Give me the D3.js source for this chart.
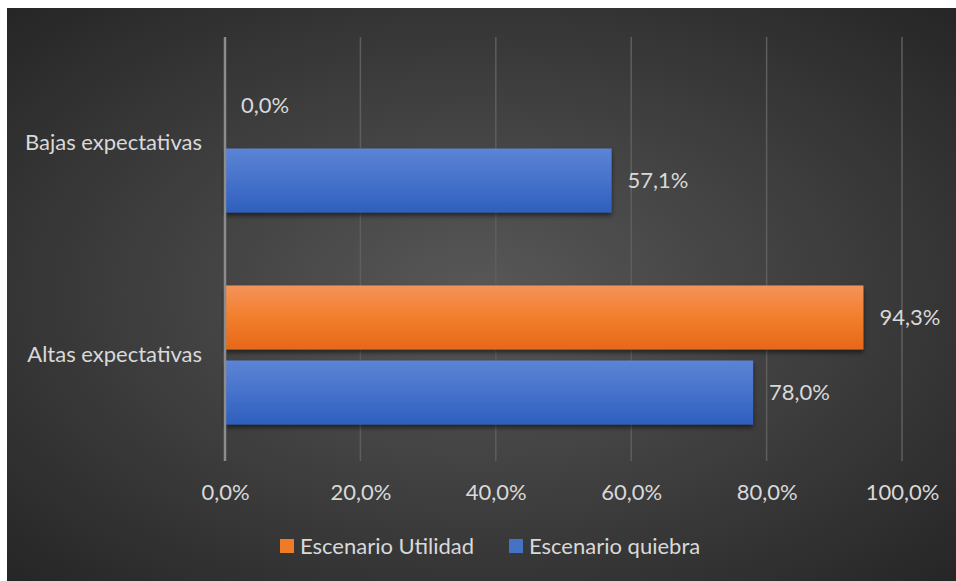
<!DOCTYPE html>
<html>
<head>
<meta charset="utf-8">
<script src="https://cdn.jsdelivr.net/npm/d3@7"></script>
<style>
  html, body { margin: 0; padding: 0; background: #fff; }
  svg text { font-family: Lato, "Open Sans", sans-serif; }
</style>
</head>
<body>
<svg id="chart"></svg>
<script>
// chart data
const categories = ["Bajas expectativas", "Altas expectativas"];
const seriesNames = ["Escenario Utilidad", "Escenario quiebra"];
const utilidad = [0.0, 94.3];
const quiebra = [57.1, 78.0];
const xTicks = [0, 20, 40, 60, 80, 100];

const W = 956, H = 581;
var margin = {top: 37, right: 54, bottom: 120, left: 225},
    width = W - margin.left - margin.right,
    height = H - margin.top - margin.bottom;

var svg = d3.select("#chart")
    .attr("width", W)
    .attr("height", H);

var defs = svg.append("defs");

// background gradient
var bg = defs.append("radialGradient").attr("id", "bg")
    .attr("cx", "50%").attr("cy", "50%").attr("r", "70%");
bg.append("stop").attr("offset", "0%").attr("stop-color", "#585858");
bg.append("stop").attr("offset", "100%").attr("stop-color", "#262626");

// bar gradients
function barGrad(id, top, mid, bottom) {
  var g = defs.append("linearGradient").attr("id", id)
      .attr("x1", 0).attr("y1", 0).attr("x2", 0).attr("y2", 1);
  g.append("stop").attr("offset", "0%").attr("stop-color", top);
  g.append("stop").attr("offset", "50%").attr("stop-color", mid);
  g.append("stop").attr("offset", "100%").attr("stop-color", bottom);
}
barGrad("gOrange", "#F4935A", "#F27E2C", "#E6681A");
barGrad("gBlue", "#5C84D5", "#4672CB", "#2E5FBE");

var shadow = defs.append("filter").attr("id", "shadow")
    .attr("x", "-5%").attr("y", "-20%").attr("width", "110%").attr("height", "150%");
shadow.append("feDropShadow").attr("dx", 0).attr("dy", 3)
    .attr("stdDeviation", 2.5).attr("flood-color", "#000").attr("flood-opacity", 0.55);

svg.append("rect")
    .attr("x", 7).attr("y", 8)
    .attr("width", W - 7).attr("height", H - 8)
    .attr("fill", "url(#bg)");

var g = svg.append("g")
    .attr("transform", "translate(" + margin.left + "," + margin.top + ")");

// scales
var x = d3.scaleLinear().domain([0, 100]).range([0, width]);
var y0 = d3.scaleBand().domain(categories).range([0, height])
    .paddingInner(0.344).paddingOuter(0.172);
var y1 = d3.scaleBand().domain(seriesNames).range([0, y0.bandwidth()])
    .paddingInner(0.147);
var color = d3.scaleOrdinal().domain(seriesNames).range(["url(#gOrange)", "url(#gBlue)"]);
var swatch = d3.scaleOrdinal().domain(seriesNames).range(["#F07B27", "#4472C4"]);

var fmt = function(v) { return d3.format(".1f")(v).replace(".", ",") + "%"; };

// gridlines
g.append("g")
  .selectAll("line")
  .data(xTicks.filter(function(d) { return d > 0; }))
  .enter().append("line")
    .attr("x1", function(d) { return x(d); })
    .attr("x2", function(d) { return x(d); })
    .attr("y1", 0).attr("y2", height)
    .attr("stroke", "#5e5e5e").attr("stroke-width", 1.5);

// x axis labels
var xAxis = g.append("g")
    .attr("transform", "translate(0," + height + ")")
    .call(d3.axisBottom(x).tickValues(xTicks).tickSize(0).tickPadding(23).tickFormat(fmt));
xAxis.select(".domain").remove();
xAxis.selectAll("text")
    .attr("fill", "#d9d9d9").style("font-size", "22px");

// rows
var rows = categories.map(function(c, i) {
  return {cat: c, values: [
    {name: seriesNames[0], value: utilidad[i]},
    {name: seriesNames[1], value: quiebra[i]}
  ]};
});

var grp = g.selectAll(".grp")
  .data(rows)
  .enter().append("g")
    .attr("transform", function(d) { return "translate(0," + y0(d.cat) + ")"; });

grp.selectAll("rect")
  .data(function(d) { return d.values; })
  .enter().append("rect")
    .attr("x", 0)
    .attr("y", function(d) { return y1(d.name); })
    .attr("width", function(d) { return x(d.value); })
    .attr("height", y1.bandwidth())
    .attr("fill", function(d) { return color(d.name); })
    .attr("filter", "url(#shadow)");

grp.selectAll(".lbl")
  .data(function(d) { return d.values; })
  .enter().append("text")
    .attr("x", function(d) { return x(d.value) + 16; })
    .attr("y", function(d) { return y1(d.name) + y1.bandwidth() / 2; })
    .attr("dy", "0.35em")
    .attr("fill", "#d9d9d9").style("font-size", "22px")
    .text(function(d) { return fmt(d.value); });

// y axis
var yAxis = g.append("g")
    .call(d3.axisLeft(y0).tickSize(0).tickPadding(23));
yAxis.select(".domain").remove();
yAxis.selectAll("text")
    .attr("fill", "#d9d9d9").style("font-size", "22px");

g.append("line")
    .attr("x1", x(0)).attr("x2", x(0))
    .attr("y1", 0).attr("y2", height)
    .attr("stroke", "#8c8c8c").attr("stroke-width", 2.5);

// legend
var legend = svg.append("g").attr("transform", "translate(280,546)");
var lx = [0, 229];
seriesNames.forEach(function(s, i) {
  var lg = legend.append("g").attr("transform", "translate(" + lx[i] + ",0)");
  lg.append("rect").attr("x", 0).attr("y", -7).attr("width", 14).attr("height", 14)
    .attr("fill", swatch(s));
  lg.append("text").attr("x", 20).attr("y", 0).attr("dy", "0.35em")
    .attr("fill", "#d9d9d9").style("font-size", "22px").text(s);
});
</script>
</body>
</html>
